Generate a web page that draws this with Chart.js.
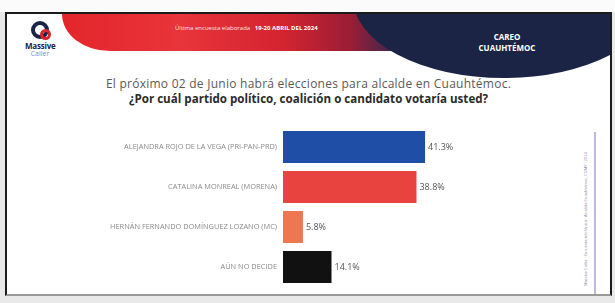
<!DOCTYPE html>
<html>
<head>
<meta charset="utf-8">
<script src="https://cdn.jsdelivr.net/npm/chart.js@4/dist/chart.umd.min.js"></script>
<style>
  html,body{margin:0;padding:0;}
  body{width:615px;height:303px;position:relative;overflow:hidden;background:#e9e9e9;font-family:"Open Sans",Arial,sans-serif;}
  #topstrip{position:absolute;left:0;top:0;width:615px;height:12px;background:#fbfbfb;}
  #frame{position:absolute;left:5px;top:12px;width:603px;height:280px;background:#fff;border:2px solid #1b1b1b;border-bottom:2px solid #999;overflow:hidden;}
  #red{position:absolute;left:55px;top:0;width:340px;height:37px;border-bottom-left-radius:48px 37px;
       background:linear-gradient(90deg,#e3262c 0%,#e8343a 35%,#d42430 65%,#9a1d35 85%,#2a2a52 100%);}
  #navy{position:absolute;left:346px;top:-96px;width:302px;height:160px;border-radius:50%;background:#1c2446;}
  #hdrtxt{position:absolute;left:168px;top:10px;width:140px;text-align:center;color:#fbe3e3;font-size:6px;white-space:nowrap;}
  #hdrtxt b{font-weight:700;color:#fff;}
  #careo{position:absolute;left:445px;top:17px;width:110px;text-align:center;color:#fff;font-size:8px;font-weight:700;line-height:11px;}
  #logo{position:absolute;left:18px;top:7px;width:30px;text-align:center;}
  #logo .ic{width:18px;height:18px;margin:0 auto;border:4px solid #1c2446;border-radius:50%;box-sizing:border-box;position:relative;}
  #logo .ic2{position:absolute;left:5px;top:4px;width:11px;height:11px;border:3px solid #d9262d;border-radius:50%;box-sizing:border-box;}
  #logo .t1{font-size:8px;color:#1c2446;font-weight:700;line-height:8px;margin-top:3px;letter-spacing:-0.2px;}
  #logo .t2{font-size:7px;color:#7f8fb0;line-height:7px;}
  #q1{position:absolute;left:0;top:61px;width:603px;text-align:center;font-size:12px;color:#5a5a5a;letter-spacing:0.25px;}
  #q2{position:absolute;left:0;top:77px;width:603px;text-align:center;font-size:11.6px;color:#2b2b2b;font-weight:700;}
  #vline{position:absolute;left:587px;top:118px;width:2px;height:162px;background:#b9bbdc;}
  #vtxt{position:absolute;left:578px;top:205px;transform:translate(-50%,-50%) rotate(-90deg);font-size:4px;color:#8a8aa8;white-space:nowrap;}
  #c{position:absolute;left:0;top:0;}
</style>
</head>
<body>
<div id="topstrip"></div>
<div id="frame">
  <div id="red"></div>
  <div id="navy"></div>
  <div id="hdrtxt">Última encuesta elaborada &nbsp; <b>19-20 ABRIL DEL 2024</b></div>
  <div id="careo">CAREO<br>CUAUHTÉMOC</div>
  <div id="logo"><div class="ic"><div class="ic2"></div></div><div class="t1">Massive</div><div class="t2">Caller</div></div>
  <div id="q1">El próximo 02 de Junio habrá elecciones para alcalde en Cuauhtémoc.</div>
  <div id="q2">¿Por cuál partido político, coalición o candidato votaría usted?</div>
  <div id="vline"></div>
  <div id="vtxt">Massive Caller · Encuesta telefónica · Alcaldía Cuauhtémoc, CDMX · 2024</div>
</div>
<canvas id="c" width="615" height="303"></canvas>
<script>
const categories = [
  "ALEJANDRA ROJO DE LA VEGA (PRI-PAN-PRD)",
  "CATALINA MONREAL (MORENA)",
  "HERNÁN FERNANDO DOMÍNGUEZ LOZANO (MC)",
  "AÚN NO DECIDE"
];
const values = [41.3, 38.8, 5.8, 14.1];
const barColors = ["#1f4ea6", "#e8433f", "#ee7751", "#111111"];
const valueLabels = values.map(v => v.toFixed(1) + "%");

const valuePlugin = {
  id: 'valueLabels',
  afterDatasetsDraw(chart) {
    const ctx = chart.ctx;
    const meta = chart.getDatasetMeta(0);
    ctx.save();
    ctx.font = '9px "Open Sans", Arial, sans-serif';
    ctx.fillStyle = '#555';
    ctx.textAlign = 'left';
    ctx.textBaseline = 'middle';
    meta.data.forEach((bar, i) => {
      ctx.fillText(valueLabels[i], bar.x + 3, bar.y);
    });
    ctx.restore();
  }
};

new Chart(document.getElementById('c'), {
  type: 'bar',
  data: {
    labels: categories,
    datasets: [{
      data: values,
      backgroundColor: barColors,
      borderWidth: 0,
      categoryPercentage: 0.8,
      barPercentage: 1.0
    }]
  },
  options: {
    indexAxis: 'y',
    responsive: false,
    animation: false,
    layout: { padding: { left: 0, right: 160, top: 127, bottom: 16 } },
    plugins: { legend: { display: false }, tooltip: { enabled: false } },
    scales: {
      x: { display: false, min: 0, max: 50 },
      y: {
        grid: { display: false, drawTicks: false },
        border: { display: false },
        ticks: { color: '#8a8a8a', font: { size: 7.4, family: '"Open Sans", Arial, sans-serif' }, padding: 6 },
        afterFit(scale) { scale.width = 283; }
      }
    }
  },
  plugins: [valuePlugin]
});
</script>
</body>
</html>
